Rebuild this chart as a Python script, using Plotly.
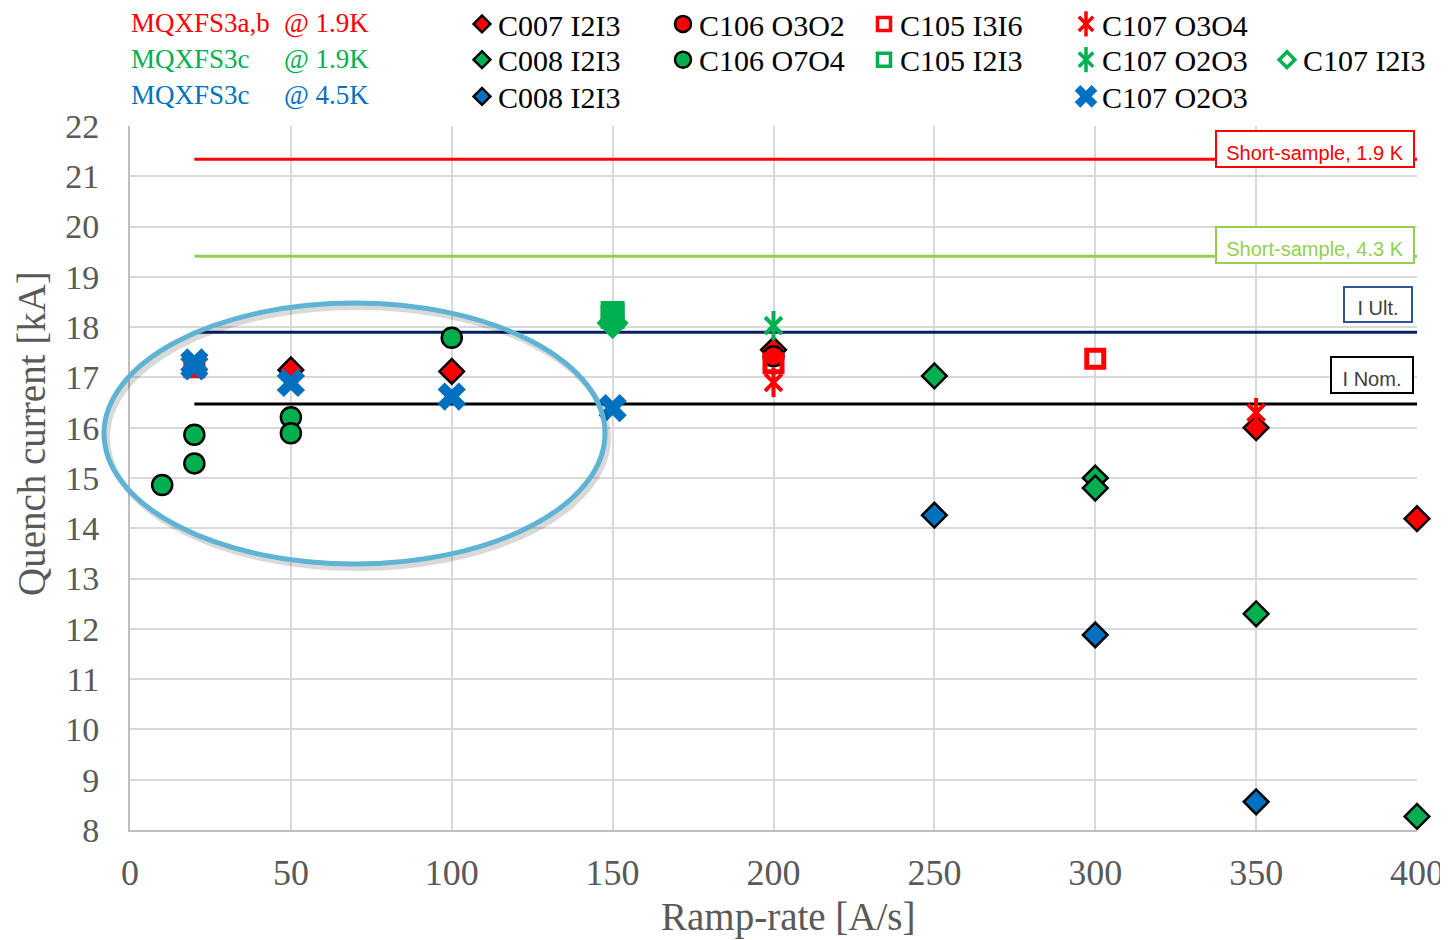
import plotly.graph_objects as go

# ---------------- data ----------------
c007_x = [50, 100, 200, 350, 400]
c007_y = [17.15, 17.12, 17.55, 16.0, 14.19]
c008g_x = [250, 300, 300, 350, 400]
c008g_y = [17.03, 15.0, 14.8, 12.3, 8.27]
c008b_x = [250, 300, 350]
c008b_y = [14.26, 11.88, 8.56]
c106r_x = [200]
c106r_y = [17.42]
c106g_x = [10, 20, 20, 50, 50, 100]
c106g_y = [14.86, 15.86, 15.29, 16.21, 15.89, 17.79]
c105r_x = [20, 200, 300]
c105r_y = [17.2, 17.28, 17.37]
c105g_x = [150, 150]
c105g_y = [18.28, 18.2]
c107r_x = [200, 350]
c107r_y = [16.9, 16.3]
c107g_x = [200]
c107g_y = [18.03]
c107b_x = [20, 20, 50, 100, 150]
c107b_y = [17.3, 17.22, 16.89, 16.62, 16.39]
c107i_x = [150]
c107i_y = [18.08]

ref_x = [20, 400]
ss19 = 21.34
ss43 = 19.41
i_ult = 17.9
i_nom = 16.47

x_ticks = [0, 50, 100, 150, 200, 250, 300, 350, 400]
y_ticks = list(range(8, 23))

RED = "#FF0000"
GREEN = "#00B050"
BLUE = "#0070C0"
SERIF = "Liberation Serif, Times New Roman, serif"
SANS = "Liberation Sans, Arial, sans-serif"

# page is rendered with an 8px body margin -> figure is 8px smaller, coords in page px
OFF = 8
FIG_W, FIG_H = 1448 - OFF, 940 - OFF
PLOT_L, PLOT_R, PLOT_T, PLOT_B = 130, 1417, 126, 830   # page px of main plot area
PAPER_H = PLOT_B - OFF                                  # paper spans page py 8..830

fig = go.Figure()

# reference lines
for yv, col in [(ss19, RED), (ss43, "#92D050"), (i_ult, "#002060"), (i_nom, "#000000")]:
    fig.add_trace(go.Scatter(x=ref_x, y=[yv, yv], mode="lines",
                             line=dict(color=col, width=3), hoverinfo="skip"))

def star(xs, ys, col, size=20, w=3.5, ax=("x", "y")):
    fig.add_trace(go.Scatter(x=xs, y=ys, mode="markers", xaxis=ax[0], yaxis=ax[1],
                             marker=dict(symbol="x-thin-open", size=size * 0.8, color=col,
                                         line=dict(color=col, width=w))))
    fig.add_trace(go.Scatter(x=xs, y=ys, mode="markers", xaxis=ax[0], yaxis=ax[1],
                             marker=dict(symbol="line-ns-open", size=size, color=col,
                                         line=dict(color=col, width=w))))

def filled(xs, ys, sym, col, size, lw=2.5, ax=("x", "y")):
    fig.add_trace(go.Scatter(x=xs, y=ys, mode="markers", xaxis=ax[0], yaxis=ax[1],
                             marker=dict(symbol=sym, size=size, color=col,
                                         line=dict(color="black", width=lw))))

def openm(xs, ys, sym, col, size, lw=4, ax=("x", "y")):
    fig.add_trace(go.Scatter(x=xs, y=ys, mode="markers", xaxis=ax[0], yaxis=ax[1],
                             marker=dict(symbol=sym, size=size, color=col,
                                         line=dict(color=col, width=lw))))

def xmark(xs, ys, col, size=24, ax=("x", "y")):
    fig.add_trace(go.Scatter(x=xs, y=ys, mode="markers", xaxis=ax[0], yaxis=ax[1],
                             marker=dict(symbol="x", size=size, color=col,
                                         line=dict(width=0))))

# data series (drawn in legend order)
filled(c007_x, c007_y, "diamond", RED, 19)
filled(c008g_x, c008g_y, "diamond", GREEN, 19)
filled(c008b_x, c008b_y, "diamond", BLUE, 19)
filled(c106r_x, c106r_y, "circle", RED, 20)
filled(c106g_x, c106g_y, "circle", GREEN, 20)
openm(c105r_x, c105r_y, "square-open", RED, 17, 5)
openm(c105g_x, c105g_y, "square-open", GREEN, 16, 8)
star(c107r_x, c107r_y, RED, 21, 4)
star(c107g_x, c107g_y, GREEN, 21, 4)
xmark(c107b_x, c107b_y, BLUE, 25)
openm(c107i_x, c107i_y, "diamond-open", GREEN, 16, 8)

# ---------------- custom legend (on a helper axis in the top band) ----------------
LEG = ("x2", "y2")
rows = [24, 60, 97]
cols = [482, 683, 884, 1086, 1287]
legend_items = [
    (0, 0, "C007 I2I3", "filled", "diamond", RED),
    (0, 1, "C008 I2I3", "filled", "diamond", GREEN),
    (0, 2, "C008 I2I3", "filled", "diamond", BLUE),
    (1, 0, "C106 O3O2", "filled", "circle", RED),
    (1, 1, "C106 O7O4", "filled", "circle", GREEN),
    (2, 0, "C105 I3I6", "open", "square-open", RED),
    (2, 1, "C105 I2I3", "open", "square-open", GREEN),
    (3, 0, "C107 O3O4", "star", None, RED),
    (3, 1, "C107 O2O3", "star", None, GREEN),
    (3, 2, "C107 O2O3", "x", None, BLUE),
    (4, 1, "C107 I2I3", "open", "diamond-open", GREEN),
]

def px_paper(px):
    return (px - PLOT_L) / (PLOT_R - PLOT_L)

def py_paper(py):
    return (PLOT_B - py) / PAPER_H

annotations = []
for ci, ri, name, kind, sym, col in legend_items:
    lx, ly = cols[ci], rows[ri]
    if kind == "filled":
        filled([lx], [ly], sym, col, 13 if sym == "diamond" else 16, 2.5, ax=LEG)
    elif kind == "open":
        openm([lx], [ly], sym, col, 13 if sym == "square-open" else 12, 3.5, ax=LEG)
    elif kind == "star":
        star([lx], [ly], col, 18, 3.5, ax=LEG)
    else:
        xmark([lx], [ly], col, 20, ax=LEG)
    annotations.append(dict(x=px_paper(lx + 14), y=py_paper(ly + 1), xref="paper", yref="paper",
                            text=name, showarrow=False, xanchor="left", yanchor="middle",
                            font=dict(family=SERIF, size=30, color="black")))

left_texts = [("MQXFS3a,b", "@ 1.9K", RED, 23),
              ("MQXFS3c", "@ 1.9K", GREEN, 59),
              ("MQXFS3c", "@ 4.5K", BLUE, 95)]
for a, b, col, py in left_texts:
    annotations.append(dict(x=px_paper(129), y=py_paper(py), xref="paper", yref="paper", text=a,
                            showarrow=False, xanchor="left", yanchor="middle",
                            font=dict(family=SERIF, size=27, color=col)))
    annotations.append(dict(x=px_paper(282), y=py_paper(py), xref="paper", yref="paper", text=b,
                            showarrow=False, xanchor="left", yanchor="middle",
                            font=dict(family=SERIF, size=27, color=col)))

# boxed labels
boxes = [("Short-sample, 1.9 K", 1315, 149, 192, 30, RED, RED),
         ("Short-sample, 4.3 K", 1315, 245, 192, 30, "#92D050", "#92D050"),
         ("I Ult.", 1378, 305, 62, 29, "#2F5597", "#404040"),
         ("I Nom.", 1372, 375, 76, 30, "#000000", "#404040")]
for t, cx, cy, w, h, bc, tc in boxes:
    annotations.append(dict(x=px_paper(cx), y=py_paper(cy), xref="paper", yref="paper", text=t,
                            showarrow=False, xanchor="center", yanchor="middle",
                            width=w, height=h, borderpad=2, borderwidth=2,
                            bordercolor=bc, bgcolor="white", valign="bottom",
                            font=dict(family=SANS, size=20, color=tc)))

# axis titles
annotations.append(dict(x=px_paper(32), y=py_paper(434), xref="paper", yref="paper",
                        text="Quench current [kA]", textangle=-90, showarrow=False,
                        xanchor="center", yanchor="middle",
                        font=dict(family=SERIF, size=39, color="#595959")))
annotations.append(dict(x=px_paper(788), y=py_paper(917), xref="paper", yref="paper",
                        text="Ramp-rate [A/s]", showarrow=False,
                        xanchor="center", yanchor="middle",
                        font=dict(family=SERIF, size=39, color="#595959")))

# ellipse highlight (paper coords, unclipped)
shapes = [
    dict(type="circle", xref="paper", yref="paper",
         x0=px_paper(107), x1=px_paper(608), y0=py_paper(568), y1=py_paper(307),
         line=dict(color="rgba(0,0,0,0.15)", width=6)),
    dict(type="circle", xref="paper", yref="paper",
         x0=px_paper(104), x1=px_paper(605), y0=py_paper(564), y1=py_paper(303),
         line=dict(color="#5FB3D4", width=5)),
]

main_top = (PLOT_B - PLOT_T) / PAPER_H

fig.update_layout(
    width=FIG_W, height=FIG_H,
    margin=dict(l=PLOT_L - OFF, r=1448 - PLOT_R, t=0, b=940 - PLOT_B, autoexpand=False),
    paper_bgcolor="white", plot_bgcolor="white",
    showlegend=False,
    annotations=annotations,
    shapes=shapes,
    xaxis=dict(range=[0, 400], tickvals=x_ticks, showgrid=True, gridcolor="#D9D9D9",
               gridwidth=2, showline=True, linecolor="#BFBFBF", linewidth=2,
               zeroline=False, ticks="", ticklabelstandoff=10, anchor="y", automargin=False,
               tickfont=dict(family=SERIF, size=36, color="#595959")),
    yaxis=dict(range=[8, 22], tickvals=y_ticks, showgrid=True, gridcolor="#D9D9D9",
               gridwidth=2, showline=True, linecolor="#BFBFBF", linewidth=2,
               zeroline=False, ticks="", ticklabelstandoff=22, domain=[0, main_top],
               automargin=False,
               tickfont=dict(family=SERIF, size=34, color="#595959")),
    xaxis2=dict(range=[PLOT_L, PLOT_R], domain=[0, 1], anchor="y2", visible=False,
                fixedrange=True, automargin=False),
    yaxis2=dict(range=[PLOT_T, OFF], domain=[main_top + 0.001, 1], anchor="x2",
                visible=False, fixedrange=True, automargin=False),
)
for tr in fig.data:
    tr.cliponaxis = False

fig.write_html("out.html", config={"displayModeBar": False})
